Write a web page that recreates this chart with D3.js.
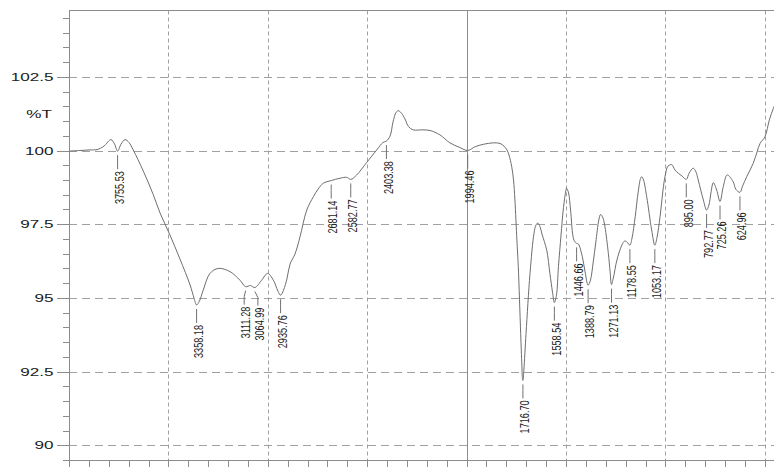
<!DOCTYPE html>
<html>
<head>
<meta charset="utf-8">
<script src="https://cdn.jsdelivr.net/npm/d3@7"></script>
<style>
  html, body { margin: 0; padding: 0; background: #fff; }
  svg { display: block; }
</style>
</head>
<body>
<svg id="chart" width="774" height="469"></svg>
<script>
// IR spectrum: wavenumber (cm-1) vs transmittance (%T)
const wavenumbers = [
  4000, 3945, 3894, 3859, 3824, 3789, 3771, 3755.53, 3738, 3718, 3698, 3677, 3626, 3576, 3542,
  3492, 3442, 3391, 3371, 3358.18, 3344, 3325, 3291, 3249, 3190, 3140, 3111.28, 3087, 3064.99,
  3031, 3001, 2972, 2949, 2935.76, 2921, 2903, 2888, 2863, 2838, 2804, 2771, 2747, 2721, 2681.14,
  2637, 2603, 2582.77, 2553, 2503, 2452, 2421, 2403.38, 2385, 2370, 2355, 2344, 2328, 2310, 2292,
  2268, 2224, 2184, 2134, 2084, 2033, 1994.46, 1957, 1916, 1866, 1832, 1812, 1797, 1787, 1773,
  1764, 1757, 1747, 1740, 1728, 1722, 1719, 1716.70, 1712, 1701, 1681, 1661, 1651, 1642, 1631,
  1621, 1597, 1581, 1568, 1558.54, 1548, 1538, 1525, 1514, 1502, 1497, 1487, 1477, 1460, 1446.66,
  1438, 1418, 1404, 1388.79, 1377, 1363, 1350, 1335, 1326, 1314, 1304, 1287, 1278, 1271.13, 1262,
  1244, 1219, 1205, 1194, 1178.55, 1168, 1152, 1137, 1125, 1119, 1110, 1094, 1069, 1053.17, 1042,
  1027, 1012, 1002, 987, 968, 952, 935, 916, 895.00, 880, 860, 846, 835, 809, 792.77, 781, 771,
  759, 742, 725.26, 709, 689, 659, 646, 624.96, 612, 591, 558, 539, 524, 499, 477, 457, 440
];
const transmittance = [
  99.98, 100.0, 100.02, 100.03, 100.15, 100.37, 100.22, 99.98, 100.22, 100.37, 100.27, 100.02, 99.3, 98.5, 97.88,
  97.13, 96.32, 95.44, 94.99, 94.76, 94.89, 95.26, 95.83, 96.0, 95.89, 95.6, 95.38, 95.42, 95.35,
  95.6, 95.83, 95.6, 95.23, 95.09, 95.26, 95.67, 96.15, 96.49, 97.07, 97.98, 98.43, 98.69, 98.89, 98.98,
  99.06, 99.09, 99.02, 99.17, 99.59, 100.02, 100.27, 100.32, 100.49, 100.97, 101.29, 101.35, 101.27, 101.07, 100.81,
  100.70, 100.70, 100.68, 100.53, 100.26, 100.10, 100.0, 100.13, 100.21, 100.26, 100.24, 100.15, 100.02, 99.85, 99.45,
  99.0, 98.32, 96.96, 96.06, 93.79, 92.72, 92.26, 92.2, 92.55, 93.79, 95.83, 97.19, 97.47, 97.54, 97.42,
  97.17, 96.62, 95.83, 95.2, 94.84, 95.09, 96.06, 97.13, 97.98, 98.59, 98.72, 98.56, 97.98, 96.96, 96.85,
  96.83, 96.4, 95.88, 95.43, 95.6, 96.22, 96.89, 97.64, 97.83, 97.71, 97.41, 96.51, 95.88, 95.45, 95.67,
  96.28, 96.79, 96.93, 96.9, 96.79, 97.03, 97.75, 98.59, 99.05, 99.11, 99.0, 98.43, 97.3, 96.79, 97.06,
  97.75, 98.66, 99.11, 99.47, 99.52, 99.34, 99.23, 99.13, 99.02, 99.24, 99.4, 99.27, 99.0, 98.32, 97.98, 98.15, 98.56,
  98.91, 98.66, 98.27, 98.77, 99.17, 98.94, 98.69, 98.58, 98.79, 99.11, 99.57, 99.95, 100.24, 100.47, 101.04, 101.43, 101.7
];

// Labelled peaks (wavenumber text as printed)
const peakLabels = [
  "3755.53", "3358.18", "3111.28", "3064.99", "2935.76", "2681.14", "2582.77", "2403.38",
  "1994.46", "1716.70", "1558.54", "1446.66", "1388.79", "1271.13", "1178.55", "1053.17",
  "895.00", "792.77", "725.26", "624.96"
];

// Axis ticks
const yTickLabels = [90, 92.5, 95, 97.5, 100, 102.5];
const xGridValues = [3500, 3000, 2500, 2000, 1500, 1000, 500];
const yAxisTitle = "%T";

const svg = d3.select("#chart");
const plotLeft = 69, plotTop = 10.5, plotBottom = 460;
const plotRight = 774;

const x = d3.scaleLinear().domain([4000, 400]).range([plotLeft, plotLeft + 3600 * 99.4 / 500]);
const y = d3.scaleLinear().domain([89.5, 104.75]).range([plotBottom, plotTop]);

// Gridlines
const grid = svg.append("g");
grid.selectAll("line.h").data(yTickLabels).join("line")
  .attr("class", "h")
  .attr("x1", plotLeft).attr("x2", plotRight)
  .attr("y1", d => Math.round(y(d)) + 0.5).attr("y2", d => Math.round(y(d)) + 0.5)
  .attr("stroke", "#a0a0a0").attr("stroke-width", 1)
  .attr("stroke-dasharray", "8,5");
grid.selectAll("line.v").data(xGridValues).join("line")
  .attr("class", "v")
  .attr("x1", d => Math.round(x(d)) + 0.5).attr("x2", d => Math.round(x(d)) + 0.5)
  .attr("y1", plotTop).attr("y2", plotBottom)
  .attr("stroke", d => d === 2000 ? "#8c8c8c" : "#a0a0a0").attr("stroke-width", 1)
  .attr("stroke-dasharray", d => d === 2000 ? null : "4,3");

// Frame: top border, left axis, bottom axis
const frameColor = "#8c8c8c";
svg.append("line").attr("x1", plotLeft).attr("x2", plotRight).attr("y1", plotTop).attr("y2", plotTop)
  .attr("stroke", frameColor);
svg.append("line").attr("x1", plotLeft + 0.5).attr("x2", plotLeft + 0.5).attr("y1", plotTop).attr("y2", plotBottom)
  .attr("stroke", frameColor);
svg.append("line").attr("x1", plotLeft).attr("x2", plotRight).attr("y1", plotBottom + 0.5).attr("y2", plotBottom + 0.5)
  .attr("stroke", frameColor);

// Y axis ticks: minor every 0.5 %T, longer at labelled values
const yMinor = d3.range(89.5, 104.51, 0.5);
svg.append("g").selectAll("line").data(yMinor).join("line")
  .attr("x1", d => yTickLabels.includes(d) ? plotLeft - 12 : plotLeft - 6).attr("x2", plotLeft)
  .attr("y1", d => Math.round(y(d)) + 0.5).attr("y2", d => Math.round(y(d)) + 0.5)
  .attr("stroke", frameColor);

// X axis minor ticks every 100 cm-1
const xMinor = d3.range(4000, 399, -100);
svg.append("g").selectAll("line").data(xMinor).join("line")
  .attr("x1", d => Math.round(x(d)) + 0.5).attr("x2", d => Math.round(x(d)) + 0.5)
  .attr("y1", plotBottom).attr("y2", plotBottom + 7)
  .attr("stroke", frameColor);

// Y tick labels (wide face)
const labelFont = "Liberation Sans, Arial, sans-serif";
svg.append("g").selectAll("text").data(yTickLabels).join("text")
  .attr("transform", d => `translate(53.5,${y(d)}) scale(1.45,1)`)
  .attr("text-anchor", "end").attr("dy", "0.35em")
  .attr("font-family", labelFont).attr("font-size", 11.8).attr("fill", "#1a1a1a")
  .text(d => d);
svg.append("text")
  .attr("transform", `translate(52,${y(101.25)}) scale(1.45,1)`)
  .attr("text-anchor", "end").attr("dy", "0.35em")
  .attr("font-family", labelFont).attr("font-size", 11.8).attr("fill", "#1a1a1a")
  .text(yAxisTitle);

// Spectrum trace
const points = wavenumbers.map((w, i) => [w, transmittance[i]]);
const line = d3.line().x(d => x(d[0])).y(d => y(d[1])).curve(d3.curveCatmullRom.alpha(0.5));
svg.append("path").datum(points)
  .attr("d", line)
  .attr("fill", "none").attr("stroke", "#6e6e6e").attr("stroke-width", 1);

// Peak markers: leader below each minimum and vertical value text
const spread = { "3111.28": -1.5, "3064.99": 3 };
const peaks = peakLabels.map(s => {
  const w = +s;
  const i = wavenumbers.indexOf(w);
  return { label: s, w, t: transmittance[i] };
});
const pk = svg.append("g");
peaks.forEach(p => {
  const px = x(p.w), py = y(p.t);
  const dx = spread[p.label] || 0;
  const lx = px + dx;
  pk.append("path")
    .attr("d", `M${px},${py + 4} L${lx},${py + 10} L${lx},${py + 18}`)
    .attr("fill", "none").attr("stroke", "#707070").attr("stroke-width", 1);
  pk.append("text")
    .attr("transform", `translate(${lx + 2},${py + 20}) rotate(-90) scale(0.75,1)`)
    .attr("text-anchor", "end").attr("dy", "0.35em")
    .attr("font-family", labelFont).attr("font-size", 12.2).attr("fill", "#1a1a1a")
    .text(p.label);
});
</script>
</body>
</html>
